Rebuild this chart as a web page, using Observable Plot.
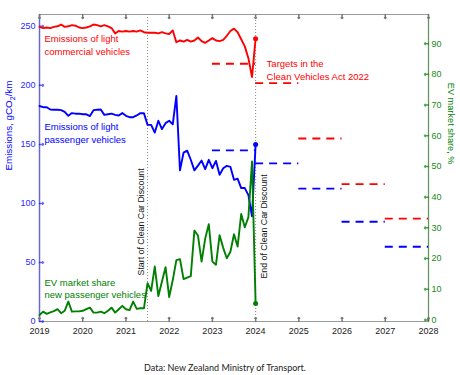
<!DOCTYPE html>
<html><head><meta charset="utf-8">
<script src="https://cdn.jsdelivr.net/npm/d3@7"></script>
<script src="https://cdn.jsdelivr.net/npm/@observablehq/plot@0.6"></script>
<style>
body{margin:0;background:#fff;}
#cap{font-family:Lato,"Open Sans",sans-serif;font-size:9px;color:#222;text-align:center;width:450px;margin-top:17px;line-height:12px;}
</style></head><body><div id="chart"></div><div id="cap">Data: New Zealand Ministry of Transport.</div>
<script>
const startYear = 2019; // monthly series, Jan 2019 .. Jan 2024
const lcvEmissions = [249.5,248.5,249,248.5,249.5,250,251.5,249.5,250,251,250.5,249,
  248.5,249,250,251.5,251,250,251,250,248.5,244,246,245.5,
  246,245.5,246,245.5,246.5,245,244.5,244.5,244.5,244,245,244,
  243.5,246.5,236.5,238,237,238.5,237,238,240.5,237.5,236,238,
  240,238,237.5,238.5,242,246,248,245,239,233,223,207,
  239.5];
const pvEmissions = [182.5,181.5,181.5,179.5,179.3,179.3,179,177.5,174.2,176.5,176,176,
  175.5,175.5,174,179,179.3,179.5,175,175.5,176,175,174.5,176.5,
  174.2,173,173,174.5,176.5,176.4,166.5,166.5,160,170,163,168,
  170,167,191,128,143,144.7,137,128,132,136.3,129,136.9,
  129.8,136,124.2,129.8,131.8,131,120,121,113,113,107,89,
  150];
const evShare = [1.6,2.7,2,2.5,2.9,3.5,2.2,3,6,2.7,2.8,2.8,
  3,3.5,4,2.4,2.4,2.7,2.2,3,4,2.4,3.5,4.6,
  3.5,3.2,6,3.6,3.8,3.8,12,9.5,17.4,7.8,12.5,17.2,
  7.5,13,19.5,19.8,13.3,13.8,14.3,29.1,27.5,19,26.5,31.2,
  19,18,27.6,23.5,20.1,22.2,27.9,23.9,34.5,30.2,33.5,51.6,
  5.4];
const targetYears = [2023,2024,2025,2026,2027];
const lcvTargets = [218.3,201.8,155.0,116.3,87.2];
const pvTargets = [145.0,133.9,112.6,84.5,63.3];
const xTicks = [2019,2020,2021,2022,2023,2024,2025,2026,2027,2028];
const leftTicks = [0,50,100,150,200,250];
const rightTicks = [0,10,20,30,40,50,60,70,80,90];
const eventDates = [2021.5, 2024];
const eventLabels = ["Start of Clean Car Discount","End of Clean Car Discount"];

const RED = "#ff0000", BLUE = "#0000ff", GREEN = "#008000";
const K = 2.6, OFF = 0.5;            // EV % -> left-axis units
const toL = v => (v + OFF) * K;
const t = i => startYear + i / 12;
const series = (arr, f = d => d) => arr.map((v, i) => ({x: t(i), y: f(v)}));
const lcvRows = series(lcvEmissions), pvRows = series(pvEmissions), evRows = series(evShare, toL);
const targets = (vals) => targetYears.map((yr, i) => ({x1: yr, x2: yr + 1, y: vals[i]}));
const events = eventDates.map((d, i) => ({date: d, label: eventLabels[i]}));

const FONT = "Liberation Sans, Arial, Helvetica, sans-serif";
const lbl = {fontSize: 9.5, textAnchor: "start", lineHeight: 1.33, fontFamily: FONT};

const chart = Plot.plot({
  width: 460, height: 345,
  marginLeft: 39, marginRight: 32, marginTop: 14, marginBottom: 24,
  style: {fontFamily: FONT, background: "white"},
  x: {domain: [xTicks[0], xTicks[xTicks.length - 1]], axis: null},
  y: {domain: [0, 260], axis: null},
  marks: [
    Plot.frame({stroke: "#9a9a9a"}),
    Plot.ruleX([xTicks[0]], {stroke: BLUE, strokeOpacity: 0.3, strokeWidth: 2}),
    Plot.ruleX([xTicks[xTicks.length - 1]], {stroke: GREEN, strokeOpacity: 0.35, strokeWidth: 1.5}),
    // ticks (inward)
    Plot.vectorX(xTicks, {x: d => d, frameAnchor: "bottom", length: 4, anchor: "start", rotate: 0, stroke: "#777"}),
    Plot.vectorX(xTicks, {x: d => d, frameAnchor: "top", length: 4, anchor: "start", rotate: 180, stroke: "#777"}),
    Plot.vectorY(leftTicks, {y: d => d, frameAnchor: "left", length: 4, anchor: "start", rotate: 90, stroke: BLUE, strokeOpacity: 0.6}),
    Plot.vectorY(rightTicks.map(toL), {y: d => d, frameAnchor: "right", length: 4, anchor: "start", rotate: -90, stroke: GREEN, strokeOpacity: 0.7}),
    // event lines
    Plot.ruleX(events, {x: "date", stroke: "#8a8a8a", strokeDasharray: "1,2", strokeWidth: 1}),
    // targets
    Plot.ruleY(targets(lcvTargets), {x1: "x1", x2: "x2", y: "y", stroke: RED, strokeWidth: 1.8, strokeDasharray: "8,6"}),
    Plot.ruleY(targets(pvTargets), {x1: "x1", x2: "x2", y: "y", stroke: BLUE, strokeWidth: 1.8, strokeDasharray: "8,6"}),
    // series
    Plot.line(lcvRows, {x: "x", y: "y", stroke: RED, strokeWidth: 1.9}),
    Plot.line(pvRows, {x: "x", y: "y", stroke: BLUE, strokeWidth: 1.9}),
    Plot.line(evRows, {x: "x", y: "y", stroke: GREEN, strokeWidth: 1.9}),
    Plot.dot([lcvRows.at(-1)], {x: "x", y: "y", r: 2.5, fill: RED, stroke: null}),
    Plot.dot([pvRows.at(-1)], {x: "x", y: "y", r: 2.5, fill: BLUE, stroke: null}),
    Plot.dot([evRows.at(-1)], {x: "x", y: "y", r: 2.5, fill: GREEN, stroke: null}),
    // annotations
    Plot.text(["Emissions of light\ncommercial vehicles"], {x: xTicks[0], y: 234.5, dx: 5, fill: RED, ...lbl}),
    Plot.text(["Emissions of light\npassenger vehicles"], {x: xTicks[0], y: 160, dx: 5, fill: BLUE, ...lbl}),
    Plot.text(["EV market share\nnew passenger vehicles"], {x: xTicks[0], y: 28.5, dx: 5, fill: GREEN, ...lbl}),
    Plot.text(["Targets in the\nClean Vehicles Act 2022"], {x: eventDates[1], y: 213.4, dx: 11, fill: RED, ...lbl}),
    Plot.text([events[0]], {x: "date", y: 39, text: "label", rotate: -90, textAnchor: "start", dx: -6.5, fontSize: 8.8, fill: "#111"}),
    Plot.text([events[1]], {x: "date", y: 36.4, text: "label", rotate: -90, textAnchor: "start", dx: 8.5, fontSize: 8.8, fill: "#111"}),
    // axes
    Plot.axisX(xTicks, {anchor: "bottom", tickSize: 0, tickPadding: 6, tickFormat: d => String(d), fontSize: 9, fill: "#222", label: null}),
    Plot.axisY(leftTicks, {anchor: "left", tickSize: 0, tickPadding: 4, fontSize: 9, fill: "#2a2aff", label: null}),
    Plot.axisY(rightTicks.map(toL), {anchor: "right", tickSize: 0, tickPadding: 3, fontSize: 9, fill: "#1a881a", label: null,
      tickFormat: d => String(Math.round(d / K - OFF))}),
    Plot.text(["Emissions, gCO2/km"], {frameAnchor: "left", rotate: -90, dx: -30.5, dy: 2.5, fill: BLUE, fontSize: 9.8}),
    Plot.text(["EV market share, %"], {frameAnchor: "right", rotate: 90, dx: 22, dy: -3.5, fill: GREEN, fontSize: 9.2})
  ]
});
document.getElementById("chart").appendChild(chart);
// real subscript for CO2
d3.select(chart).selectAll("text").filter(function() { return this.textContent === "Emissions, gCO2/km"; })
  .each(function() {
    const el = d3.select(this);
    el.text("Emissions, gCO");
    el.append("tspan").attr("dy", "2.5").attr("font-size", "7").text("2");
    el.append("tspan").attr("dy", "-2.5").text("/km");
  });
</script></body></html>
